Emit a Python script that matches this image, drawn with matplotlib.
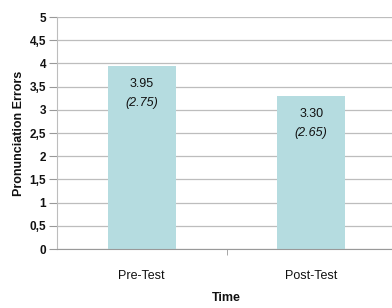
import matplotlib
matplotlib.use("Agg")
import matplotlib.pyplot as plt
from matplotlib import font_manager

categories = ["Pre-Test", "Post-Test"]
means = [3.95, 3.30]
sds = [2.75, 2.65]
yticks = [0, 0.5, 1, 1.5, 2, 2.5, 3, 3.5, 4, 4.5, 5]
ytick_labels = ["0", "0,5", "1", "1,5", "2", "2,5", "3", "3,5", "4", "4,5", "5"]

names = {f.name for f in font_manager.fontManager.ttflist}
narrow = "Liberation Sans Narrow" if "Liberation Sans Narrow" in names else "Liberation Sans"

fig = plt.figure(figsize=(3.92, 3.08), dpi=100)
ax = fig.add_axes([57/392, 59/308, 339/392, 232/308])

x = list(range(len(categories)))
ax.bar(x, means, width=0.4, color="#b5dce0", zorder=2)
ax.set_xlim(-0.5, 1.5)
ax.set_ylim(0, 5)

for xi, m, s in zip(x, means, sds):
    ax.text(xi, m - 0.26, f"{m:.2f}", ha="center", va="top", fontsize=9, family=narrow, color="#111111", zorder=3)
    ax.text(xi, m - 0.67, f"({s:.2f})", ha="center", va="top", fontsize=9, family=narrow, style="italic", color="#111111", zorder=3)

ax.set_yticks(yticks)
ax.set_yticklabels(ytick_labels, fontsize=8.5, fontweight="bold", family="Liberation Sans", color="#111111")
ax.yaxis.grid(True, color="#bdbdbd", linewidth=0.9, zorder=0)
ax.set_axisbelow(True)

ax.set_xticks(x)
ax.set_xticklabels(categories, fontsize=9, family=narrow, color="#111111")
ax.set_xticks([0.5], minor=True)
ax.tick_params(axis="x", which="major", length=0, pad=15)
ax.tick_params(axis="x", which="minor", length=4, color="#999999")
ax.tick_params(axis="y", length=6, color="#999999", pad=2)

for s in ["top", "right"]:
    ax.spines[s].set_visible(False)
ax.spines["left"].set_color("#bdbdbd")
ax.spines["bottom"].set_color("#999999")

ax.set_ylabel("Pronunciation Errors", fontsize=9, fontweight="bold", family="Liberation Sans", labelpad=3, color="#111111")
fig.text(226/392, 1 - 298/308, "Time", ha="center", va="center", fontsize=9, fontweight="bold", family=narrow, color="#111111")

fig.savefig("out.png", dpi=100)
